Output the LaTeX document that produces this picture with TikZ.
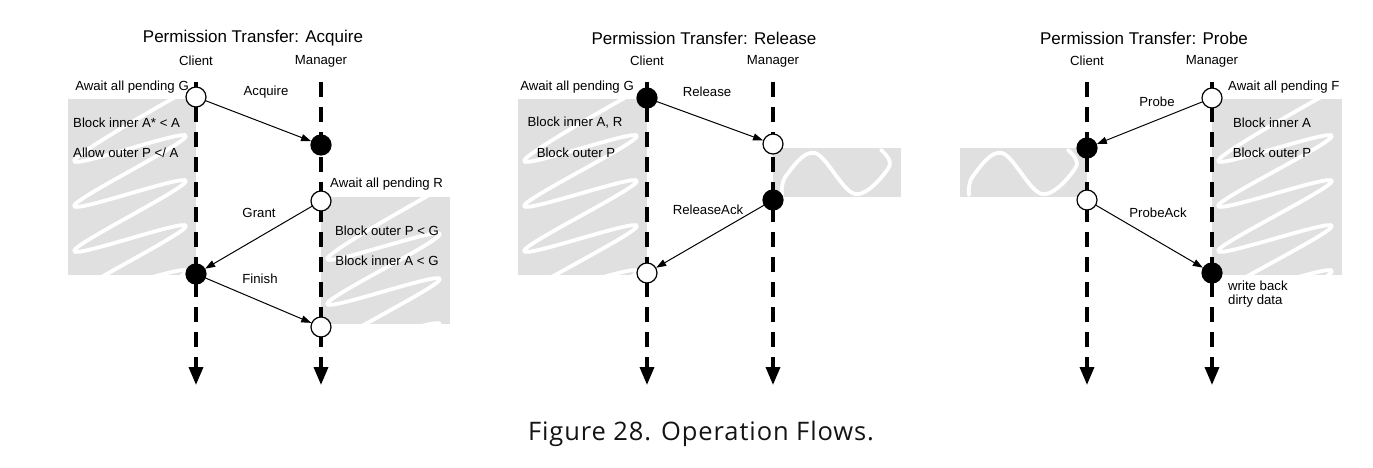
\documentclass[tikz,border=0pt]{standalone}
\usepackage{fontspec}
\setmainfont{Liberation Sans}
\newfontfamily\capfont[LetterSpace=3.5]{Open Sans}
\usetikzlibrary{arrows.meta}
\definecolor{boxgrey}{HTML}{E0E0E0}
\tikzset{
 lbl/.style={font=\fontsize{13.2pt}{14pt}\selectfont, inner sep=0pt},
 ttl/.style={font=\fontsize{17pt}{20pt}\selectfont, inner sep=0pt},
 opencirc/.style={circle, draw=black, fill=white, line width=1.2pt, minimum size=20pt, inner sep=0pt},
 fullcirc/.style={circle, draw=black, fill=black, line width=1.2pt, minimum size=20pt, inner sep=0pt},
 lifeline/.style={line width=3.5pt, dash pattern=on 15pt off 10pt, -{Triangle[width=14pt,length=18pt]}},
 msg/.style={line width=1pt, -{Triangle[width=7pt,length=10pt]}},
 shade/.style={fill=boxgrey, draw=none},
 squig/.style={white, line width=3.8pt, line cap=round, line join=round},
}
\newcommand{\tallzz}[4]{%
 \begin{scope}
 \clip (#1,#2) rectangle (#3,#4);
 \draw[squig] plot[smooth, tension=0.6] coordinates {
 ({#3-10},{#2-8}) ({#1+6},{#2+62}) ({#3-10},{#2+37}) ({#1+6},{#2+107})
 ({#3-10},{#2+82}) ({#1+6},{#2+152}) ({#3-10},{#2+127}) ({#1+6},{#2+197})
 ({#3-10},{#2+172}) ({#1+6},{#2+242}) };
 \end{scope}}
\newcommand{\flatzz}[2]{%
 \begin{scope}[shift={(#1,#2)}]
 \clip (0,0) rectangle (128,49);
 \draw[squig] plot[smooth, tension=0.6] coordinates {(9,47) (13,28) (42,5) (82,46) (116,19) (108,2)};
 \end{scope}}
\begin{document}
\begin{tikzpicture}[x=1pt,y=-1pt]
\useasboundingbox (0,0) rectangle (1373,468);
% ---------- grey regions
\fill[shade] (68,99) rectangle (196,275);
\tallzz{68}{99}{196}{275}
\fill[shade] (321,197) rectangle (450,324);
\tallzz{321}{197}{450}{324}
\fill[shade] (518,99) rectangle (647,275);
\tallzz{518}{99}{647}{275}
\fill[shade] (773,148) rectangle (901,197);
\flatzz{773}{148}
\fill[shade] (960,148) rectangle (1087,197);
\flatzz{960}{148}
\fill[shade] (1212,99) rectangle (1342,275);
\tallzz{1212}{99}{1342}{275}
% ---------- lifelines
\coordinate (ACt) at (196,82); \coordinate (ACb) at (196,385);
\coordinate (AMt) at (321,82); \coordinate (AMb) at (321,385);
\coordinate (RCt) at (647,82); \coordinate (RCb) at (647,385);
\coordinate (RMt) at (773,82); \coordinate (RMb) at (773,385);
\coordinate (PCt) at (1087,82); \coordinate (PCb) at (1087,385);
\coordinate (PMt) at (1212,82); \coordinate (PMb) at (1212,385);
\draw[lifeline] (ACt) -- (ACb);
\draw[lifeline] (AMt) -- (AMb);
\draw[lifeline] (RCt) -- (RCb);
\draw[lifeline] (RMt) -- (RMb);
\draw[lifeline] (PCt) -- (PCb);
\draw[lifeline] (PMt) -- (PMb);
% ---------- titles
\node[ttl] (tA) at (253,38) {Permission Transfer: Acquire};
\node[ttl] (tR) at (704,38) {Permission Transfer: Release};
\node[ttl] (tP) at (1144,38) {Permission Transfer: Probe};
\node[lbl] (hAC) at (196,61) {Client};
\node[lbl] (hAM) at (321,61) {Manager};
\node[lbl] (hRC) at (647,61) {Client};
\node[lbl] (hRM) at (773,61) {Manager};
\node[lbl] (hPC) at (1087,61) {Client};
\node[lbl] (hPM) at (1212,61) {Manager};
% ---------- panel Acquire
\node[opencirc] (a1) at (196,97) {};
\node[fullcirc] (a2) at (321,145) {};
\node[opencirc] (a3) at (321,201) {};
\node[fullcirc] (a4) at (196,274) {};
\node[opencirc] (a5) at (321,327) {};
\draw[msg] (a1) -- (a2);
\draw[msg] (a3) -- (a4);
\draw[msg] (a4) -- (a5);
\node[lbl, anchor=east] (la1) at (189,87) {Await all pending G};
\node[lbl] (la2) at (266,92) {Acquire};
\node[lbl, anchor=west] (la3) at (73,123) {Block inner A* < A};
\node[lbl, anchor=west] (la4) at (73,153) {Allow outer P </ A};
\node[lbl, anchor=west] (la5) at (330,184) {Await all pending R};
\node[lbl] (la6) at (259,213) {Grant};
\node[lbl] (la7) at (387,231) {Block outer P < G};
\node[lbl] (la8) at (387,261) {Block inner A < G};
\node[lbl] (la9) at (260,279) {Finish};
% ---------- panel Release
\node[fullcirc] (r1) at (647,98) {};
\node[opencirc] (r2) at (773,144) {};
\node[fullcirc] (r3) at (773,200) {};
\node[opencirc] (r4) at (647,273) {};
\draw[msg] (r1) -- (r2);
\draw[msg] (r3) -- (r4);
\node[lbl, anchor=east] (lr1) at (634,87) {Await all pending G};
\node[lbl] (lr2) at (707,92) {Release};
\node[lbl] (lr3) at (575,123) {Block inner A, R};
\node[lbl] (lr4) at (576,153) {Block outer P};
\node[lbl] (lr5) at (708,210) {ReleaseAck};
% ---------- panel Probe
\node[opencirc] (p1) at (1212,98) {};
\node[fullcirc] (p2) at (1087,148) {};
\node[opencirc] (p3) at (1087,200) {};
\node[fullcirc] (p4) at (1212,273) {};
\draw[msg] (p1) -- (p2);
\draw[msg] (p3) -- (p4);
\node[lbl, anchor=west] (lp1) at (1228,87) {Await all pending F};
\node[lbl] (lp2) at (1157,102) {Probe};
\node[lbl] (lp3) at (1272,123) {Block inner A};
\node[lbl] (lp4) at (1272,153) {Block outer P};
\node[lbl] (lp5) at (1158,213) {ProbeAck};
\node[lbl, anchor=north west, align=left] (lp6) at (1228,281) {write back\\dirty data};
% ---------- caption
\node[font=\capfont\fontsize{25.5pt}{30pt}\selectfont, text=black!92, inner sep=0pt] (cap) at (701,434) {Figure 28. Operation Flows.};
\end{tikzpicture}
\end{document}
